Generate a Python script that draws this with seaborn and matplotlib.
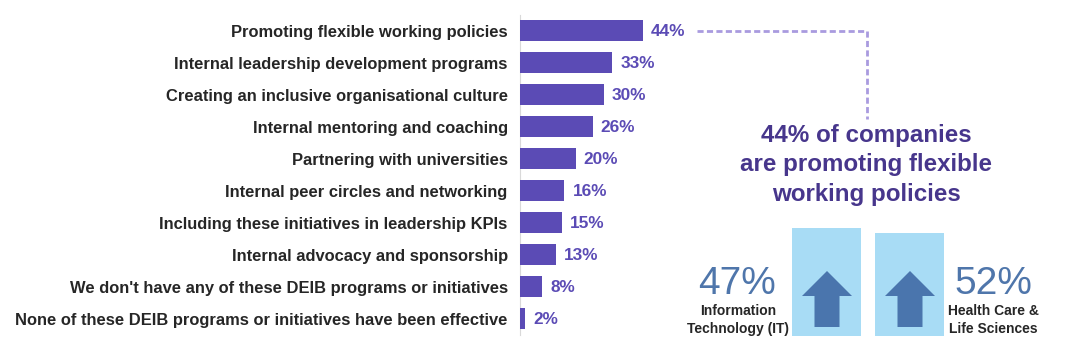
import matplotlib
matplotlib.use("Agg")
import matplotlib.pyplot as plt
import pandas as pd
import seaborn as sns
from matplotlib.patches import Polygon, Rectangle

initiatives = [
    "Promoting flexible working policies",
    "Internal leadership development programs",
    "Creating an inclusive organisational culture",
    "Internal mentoring and coaching",
    "Partnering with universities",
    "Internal peer circles and networking",
    "Including these initiatives in leadership KPIs",
    "Internal advocacy and sponsorship",
    "We don't have any of these DEIB programs or initiatives",
    "None of these DEIB programs or initiatives have been effective",
]
shares = [44, 33, 30, 26, 20, 16, 15, 13, 8, 2]

callout_lines = ["44% of companies", "are promoting flexible", "working policies"]
sector_values = ["47%", "52%"]
sector_names = ["Information\nTechnology (IT)", "Health Care &\nLife Sciences"]

W, H = 1077, 355
BAR = "#5b4bb5"
BLUE = "#4f76ab"

sns.set_theme(style="white")
plt.rcParams["font.family"] = ["Liberation Sans", "DejaVu Sans"]

fig = plt.figure(figsize=(W / 100, H / 100), dpi=100, facecolor="white")

# bar axes, placed in pixels: 2.81 px per percent, 32 px per row
ax = fig.add_axes([519.5 / W, 1 - 334.5 / H, 140.5 / W, 320 / H])
df = pd.DataFrame({"initiative": initiatives, "share": shares})
sns.barplot(data=df, y="initiative", x="share", color=BAR, saturation=1, width=0.66,
            linewidth=0, ax=ax)
ax.set_xlim(0, 50)
ax.set_ylim(9.5, -0.5)
ax.set_xlabel("")
ax.set_ylabel("")
ax.set_xticks([])
ax.tick_params(axis="y", length=0, pad=8.5, labelsize=11.9, labelcolor="#262626")
for lab in ax.get_yticklabels():
    lab.set_fontweight("bold")
for s in ["top", "right", "bottom"]:
    ax.spines[s].set_visible(False)
ax.spines["left"].set_color("#d9d9d9")
ax.spines["left"].set_linewidth(0.8)
ax.spines["left"].set_zorder(0)
vals = ax.bar_label(ax.containers[0], fmt="%d%%", padding=5.8, color=BAR, fontsize=12.4,
                    fontweight="bold", clip_on=False)
for t in vals:
    t.xyann = (t.xyann[0], -0.7)
ax.patch.set_alpha(0)

# overlay in pixel coordinates for the right hand panel
ov = fig.add_axes([0, 0, 1, 1], zorder=-1)
ov.set_xlim(0, W)
ov.set_ylim(H, 0)
ov.axis("off")

ov.plot([697, 867, 867], [31, 31, 119], color="#a99bdf", lw=2, ls=(0, (2.2, 1.2)))

for y, line in zip([142, 171.5, 201], callout_lines):
    ov.text(866.5, y, line, ha="center", va="baseline", color="#47368c", fontsize=17.4, fontweight="bold")

for left, top, tip in [(792, 228, 827), (875, 233, 910)]:
    ov.add_patch(Rectangle((left, top), 69, 336 - top, fc="#a8dcf5", ec="none"))
    ov.add_patch(Polygon(
        [(tip, 271), (tip + 25, 296), (tip + 12.5, 296), (tip + 12.5, 327),
         (tip - 12.5, 327), (tip - 12.5, 296), (tip - 25, 296)],
        fc="#4a75ad", ec="none"))

for x, val, name in zip([737, 993], sector_values, sector_names):
    ov.text(x, 293.5, val, ha="center", va="baseline", color=BLUE, fontsize=28)
    ov.text(x + (1 if x < 800 else 0), 320, name, ha="center", va="center", color="#262626",
            fontsize=10, fontweight="bold", linespacing=1.3)

fig.savefig("out.png", dpi=100)
